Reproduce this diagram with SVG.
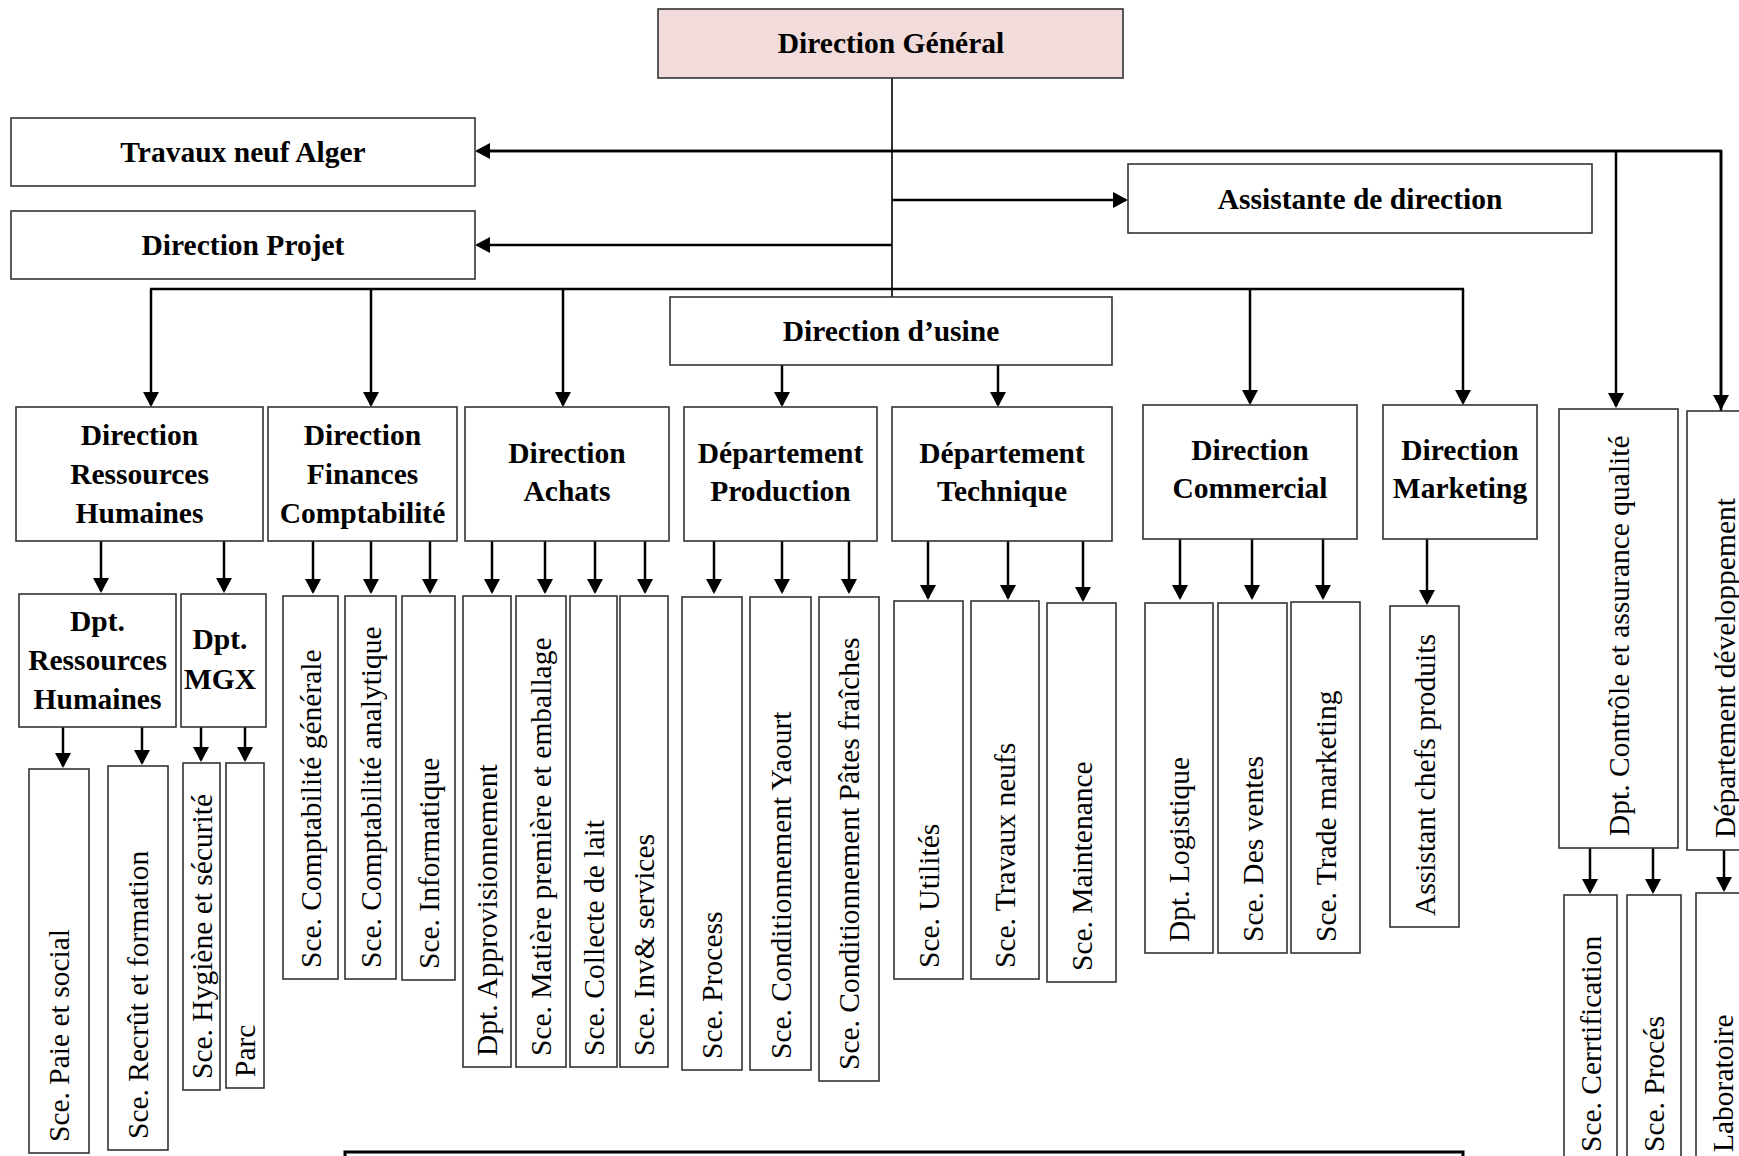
<svg xmlns="http://www.w3.org/2000/svg" width="1739" height="1156" viewBox="0 0 1739 1156">
  <style>
    .box { fill: #ffffff; stroke: #333333; stroke-width: 1.6; }
    .head { fill: #f2dcdb; }
    .bt { font-family: "Liberation Serif", "Times New Roman", serif; font-weight: bold; font-size: 29.5px; fill: #000; text-anchor: middle; }
    .vt { font-family: "Liberation Serif", "Times New Roman", serif; font-size: 29.5px; fill: #000; text-anchor: start; }
    .bus { fill: none; stroke: #000; stroke-width: 2.6; }
    .arr { fill: none; stroke: #000; stroke-width: 2.5; marker-end: url(#ah); }
    .harr { fill: none; stroke: #000; stroke-width: 2.6; marker-end: url(#ah); }
    .trunk { fill: none; stroke: #000; stroke-width: 1.6; }
    .frame { fill: none; stroke: #000; stroke-width: 3; }
  </style>
  <defs>
    <marker id="ah" markerUnits="userSpaceOnUse" markerWidth="17" markerHeight="17" viewBox="0 0 17 17" refX="13" refY="8" orient="auto">
      <path d="M0,0 L15,8 L0,16 Z" fill="#000"/>
    </marker>
  </defs>
  <rect width="1739" height="1156" fill="#ffffff"/>

  <!-- connectors -->
  <g id="connectors">
    <!-- main trunk -->
    <line class="trunk" x1="892" y1="78" x2="892" y2="297"/>
    <!-- top line to Travaux neuf Alger and the two right-hand departments -->
    <polyline class="bus" points="1721,411 1721,151 490,151"/>
    <line class="harr" x1="1721" y1="151" x2="477" y2="151"/>
    <line class="arr" x1="1721" y1="151" x2="1721" y2="408"/>
    <line class="arr" x1="1616" y1="151" x2="1616" y2="406"/>
    <!-- staff positions -->
    <line class="harr" x1="892" y1="200" x2="1126" y2="200"/>
    <line class="harr" x1="892" y1="245" x2="477" y2="245"/>
    <!-- bus to the directions -->
    <line class="bus" x1="150" y1="289" x2="1464" y2="289"/>
    <line class="arr" x1="151" y1="289" x2="151" y2="405"/>
    <line class="arr" x1="371" y1="289" x2="371" y2="405"/>
    <line class="arr" x1="563" y1="289" x2="563" y2="405"/>
    <line class="arr" x1="1250" y1="289" x2="1250" y2="403"/>
    <line class="arr" x1="1463" y1="289" x2="1463" y2="403"/>
    <!-- Direction d'usine to its departments -->
    <line class="arr" x1="782" y1="365" x2="782" y2="405"/>
    <line class="arr" x1="998" y1="365" x2="998" y2="405"/>
    <!-- RH -->
    <line class="arr" x1="101" y1="541" x2="101" y2="591"/>
    <line class="arr" x1="224" y1="541" x2="224" y2="591"/>
    <line class="arr" x1="63" y1="727" x2="63" y2="766"/>
    <line class="arr" x1="142" y1="727" x2="142" y2="763"/>
    <line class="arr" x1="201" y1="727" x2="201" y2="760"/>
    <line class="arr" x1="245" y1="727" x2="245" y2="760"/>
    <!-- Finances -->
    <line class="arr" x1="313" y1="541" x2="313" y2="592"/>
    <line class="arr" x1="371" y1="541" x2="371" y2="592"/>
    <line class="arr" x1="430" y1="541" x2="430" y2="592"/>
    <!-- Achats -->
    <line class="arr" x1="492" y1="541" x2="492" y2="592"/>
    <line class="arr" x1="545" y1="541" x2="545" y2="592"/>
    <line class="arr" x1="595" y1="541" x2="595" y2="592"/>
    <line class="arr" x1="645" y1="541" x2="645" y2="592"/>
    <!-- Production -->
    <line class="arr" x1="714" y1="541" x2="714" y2="592"/>
    <line class="arr" x1="782" y1="541" x2="782" y2="592"/>
    <line class="arr" x1="849" y1="541" x2="849" y2="592"/>
    <!-- Technique -->
    <line class="arr" x1="928" y1="541" x2="928" y2="598"/>
    <line class="arr" x1="1008" y1="541" x2="1008" y2="598"/>
    <line class="arr" x1="1083" y1="541" x2="1083" y2="600"/>
    <!-- Commercial -->
    <line class="arr" x1="1180" y1="539" x2="1180" y2="598"/>
    <line class="arr" x1="1252" y1="539" x2="1252" y2="598"/>
    <line class="arr" x1="1323" y1="539" x2="1323" y2="598"/>
    <!-- Marketing -->
    <line class="arr" x1="1427" y1="539" x2="1427" y2="603"/>
    <!-- Qualité and développement -->
    <line class="arr" x1="1590" y1="848" x2="1590" y2="892"/>
    <line class="arr" x1="1653" y1="848" x2="1653" y2="892"/>
    <line class="arr" x1="1724" y1="850" x2="1724" y2="890"/>
  </g>

  <!-- top level -->
  <g id="direction-generale">
    <rect class="box head" x="658" y="9" width="465" height="69"/>
    <text class="bt" x="891" y="53">Direction Général</text>
  </g>
  <g id="travaux-neuf-alger">
    <rect class="box" x="11" y="118" width="464" height="68"/>
    <text class="bt" x="243" y="162">Travaux neuf Alger</text>
  </g>
  <g id="assistante-direction">
    <rect class="box" x="1128" y="164" width="464" height="69"/>
    <text class="bt" x="1360" y="209">Assistante de direction</text>
  </g>
  <g id="direction-projet">
    <rect class="box" x="11" y="211" width="464" height="68"/>
    <text class="bt" x="243" y="255">Direction Projet</text>
  </g>
  <g id="direction-usine">
    <rect class="box" x="670" y="297" width="442" height="68"/>
    <text class="bt" x="891" y="341">Direction d’usine</text>
  </g>

  <!-- directions and departments -->
  <g id="direction-rh">
    <rect class="box" x="16" y="407" width="247" height="134"/>
    <text class="bt" x="139.5" y="445">Direction</text>
    <text class="bt" x="139.5" y="484">Ressources</text>
    <text class="bt" x="139.5" y="523">Humaines</text>
  </g>
  <g id="direction-finances">
    <rect class="box" x="268" y="407" width="189" height="134"/>
    <text class="bt" x="362.5" y="445">Direction</text>
    <text class="bt" x="362.5" y="484">Finances</text>
    <text class="bt" x="362.5" y="523">Comptabilité</text>
  </g>
  <g id="direction-achats">
    <rect class="box" x="465" y="407" width="204" height="134"/>
    <text class="bt" x="567" y="463">Direction</text>
    <text class="bt" x="567" y="501">Achats</text>
  </g>
  <g id="departement-production">
    <rect class="box" x="684" y="407" width="193" height="134"/>
    <text class="bt" x="780.5" y="463">Département</text>
    <text class="bt" x="780.5" y="501">Production</text>
  </g>
  <g id="departement-technique">
    <rect class="box" x="892" y="407" width="220" height="134"/>
    <text class="bt" x="1002" y="463">Département</text>
    <text class="bt" x="1002" y="501">Technique</text>
  </g>
  <g id="direction-commercial">
    <rect class="box" x="1143" y="405" width="214" height="134"/>
    <text class="bt" x="1250" y="460">Direction</text>
    <text class="bt" x="1250" y="498">Commercial</text>
  </g>
  <g id="direction-marketing">
    <rect class="box" x="1383" y="405" width="154" height="134"/>
    <text class="bt" x="1460" y="460">Direction</text>
    <text class="bt" x="1460" y="498">Marketing</text>
  </g>
  <g id="dpt-controle-qualite">
    <rect class="box" x="1559" y="409" width="119" height="439"/>
    <text class="vt" transform="translate(1628.5,836) rotate(-90)">Dpt. Contrôle et assurance qualité</text>
  </g>
  <g id="departement-developpement">
    <rect class="box" x="1687" y="411" width="76" height="439"/>
    <text class="vt" transform="translate(1735,838) rotate(-90)">Département développement</text>
  </g>

  <!-- RH branch -->
  <g id="dpt-rh">
    <rect class="box" x="19" y="594" width="157" height="133"/>
    <text class="bt" x="97.5" y="631">Dpt.</text>
    <text class="bt" x="97.5" y="670">Ressources</text>
    <text class="bt" x="97.5" y="709">Humaines</text>
  </g>
  <g id="dpt-mgx">
    <rect class="box" x="181" y="594" width="85" height="133"/>
    <text class="bt" x="220" y="649">Dpt.</text>
    <text class="bt" x="220" y="689">MGX</text>
  </g>
  <g id="sce-paie">
    <rect class="box" x="29" y="769" width="60" height="384"/>
    <text class="vt" transform="translate(69,1142) rotate(-90)">Sce. Paie et social</text>
  </g>
  <g id="sce-recrut">
    <rect class="box" x="108" y="766" width="60" height="384"/>
    <text class="vt" transform="translate(148,1139) rotate(-90)">Sce. Recrût et formation</text>
  </g>
  <g id="sce-hygiene">
    <rect class="box" x="183" y="763" width="37" height="327"/>
    <text class="vt" transform="translate(211.5,1079) rotate(-90)">Sce. Hygiène et sécurité</text>
  </g>
  <g id="parc">
    <rect class="box" x="226" y="763" width="38" height="325"/>
    <text class="vt" transform="translate(255,1077) rotate(-90)">Parc</text>
  </g>

  <!-- Finances branch -->
  <g id="sce-compta-generale">
    <rect class="box" x="283" y="596" width="55" height="383"/>
    <text class="vt" transform="translate(320.5,968) rotate(-90)">Sce. Comptabilité générale</text>
  </g>
  <g id="sce-compta-analytique">
    <rect class="box" x="345" y="596" width="51" height="383"/>
    <text class="vt" transform="translate(380.5,968) rotate(-90)">Sce. Comptabilité analytique</text>
  </g>
  <g id="sce-informatique">
    <rect class="box" x="402" y="596" width="53" height="384"/>
    <text class="vt" transform="translate(438.5,969) rotate(-90)">Sce. Informatique</text>
  </g>

  <!-- Achats branch -->
  <g id="dpt-approvisionnement">
    <rect class="box" x="463" y="596" width="48" height="471"/>
    <text class="vt" transform="translate(497,1056) rotate(-90)">Dpt. Approvisionnement</text>
  </g>
  <g id="sce-matiere">
    <rect class="box" x="516" y="596" width="50" height="471"/>
    <text class="vt" transform="translate(551,1056) rotate(-90)">Sce. Matière première et emballage</text>
  </g>
  <g id="sce-collecte">
    <rect class="box" x="570" y="596" width="47" height="471"/>
    <text class="vt" transform="translate(603.5,1056) rotate(-90)">Sce. Collecte de lait</text>
  </g>
  <g id="sce-inv">
    <rect class="box" x="620" y="596" width="48" height="471"/>
    <text class="vt" transform="translate(654,1056) rotate(-90)">Sce. Inv&amp; services</text>
  </g>

  <!-- Production branch -->
  <g id="sce-process">
    <rect class="box" x="682" y="597" width="60" height="473"/>
    <text class="vt" transform="translate(722,1059) rotate(-90)">Sce. Process</text>
  </g>
  <g id="sce-cond-yaourt">
    <rect class="box" x="750" y="597" width="61" height="473"/>
    <text class="vt" transform="translate(790.5,1059) rotate(-90)">Sce. Conditionnement Yaourt</text>
  </g>
  <g id="sce-cond-pates">
    <rect class="box" x="819" y="597" width="60" height="484"/>
    <text class="vt" transform="translate(859,1070) rotate(-90)">Sce. Conditionnement Pâtes fraîches</text>
  </g>

  <!-- Technique branch -->
  <g id="sce-utilites">
    <rect class="box" x="894" y="601" width="69" height="378"/>
    <text class="vt" transform="translate(938.5,968) rotate(-90)">Sce. Utilités</text>
  </g>
  <g id="sce-travaux-neufs">
    <rect class="box" x="971" y="601" width="68" height="378"/>
    <text class="vt" transform="translate(1015,968) rotate(-90)">Sce. Travaux neufs</text>
  </g>
  <g id="sce-maintenance">
    <rect class="box" x="1047" y="603" width="69" height="379"/>
    <text class="vt" transform="translate(1091.5,971) rotate(-90)">Sce. Maintenance</text>
  </g>

  <!-- Commercial branch -->
  <g id="dpt-logistique">
    <rect class="box" x="1145" y="603" width="68" height="350"/>
    <text class="vt" transform="translate(1189,942) rotate(-90)">Dpt. Logistique</text>
  </g>
  <g id="sce-ventes">
    <rect class="box" x="1218" y="603" width="69" height="350"/>
    <text class="vt" transform="translate(1262.5,942) rotate(-90)">Sce. Des ventes</text>
  </g>
  <g id="sce-trade-marketing">
    <rect class="box" x="1291" y="602" width="69" height="351"/>
    <text class="vt" transform="translate(1335.5,942) rotate(-90)">Sce. Trade marketing</text>
  </g>

  <!-- Marketing branch -->
  <g id="assistant-chefs-produits">
    <rect class="box" x="1390" y="606" width="69" height="321"/>
    <text class="vt" transform="translate(1434.5,916) rotate(-90)">Assistant chefs produits</text>
  </g>

  <!-- Qualité / développement branch -->
  <g id="sce-certification">
    <rect class="box" x="1564" y="895" width="53" height="280"/>
    <text class="vt" transform="translate(1600.5,1152) rotate(-90)">Sce. Cerrtification</text>
  </g>
  <g id="sce-proces">
    <rect class="box" x="1627" y="895" width="54" height="280"/>
    <text class="vt" transform="translate(1664,1152) rotate(-90)">Sce. Procés</text>
  </g>
  <g id="laboratoire">
    <rect class="box" x="1696" y="893" width="56" height="282"/>
    <text class="vt" transform="translate(1733,1152) rotate(-90)">Laboratoire</text>
  </g>

  <!-- legend frame along the bottom edge -->
  <rect class="frame" x="345" y="1152" width="1118" height="40"/>
</svg>
